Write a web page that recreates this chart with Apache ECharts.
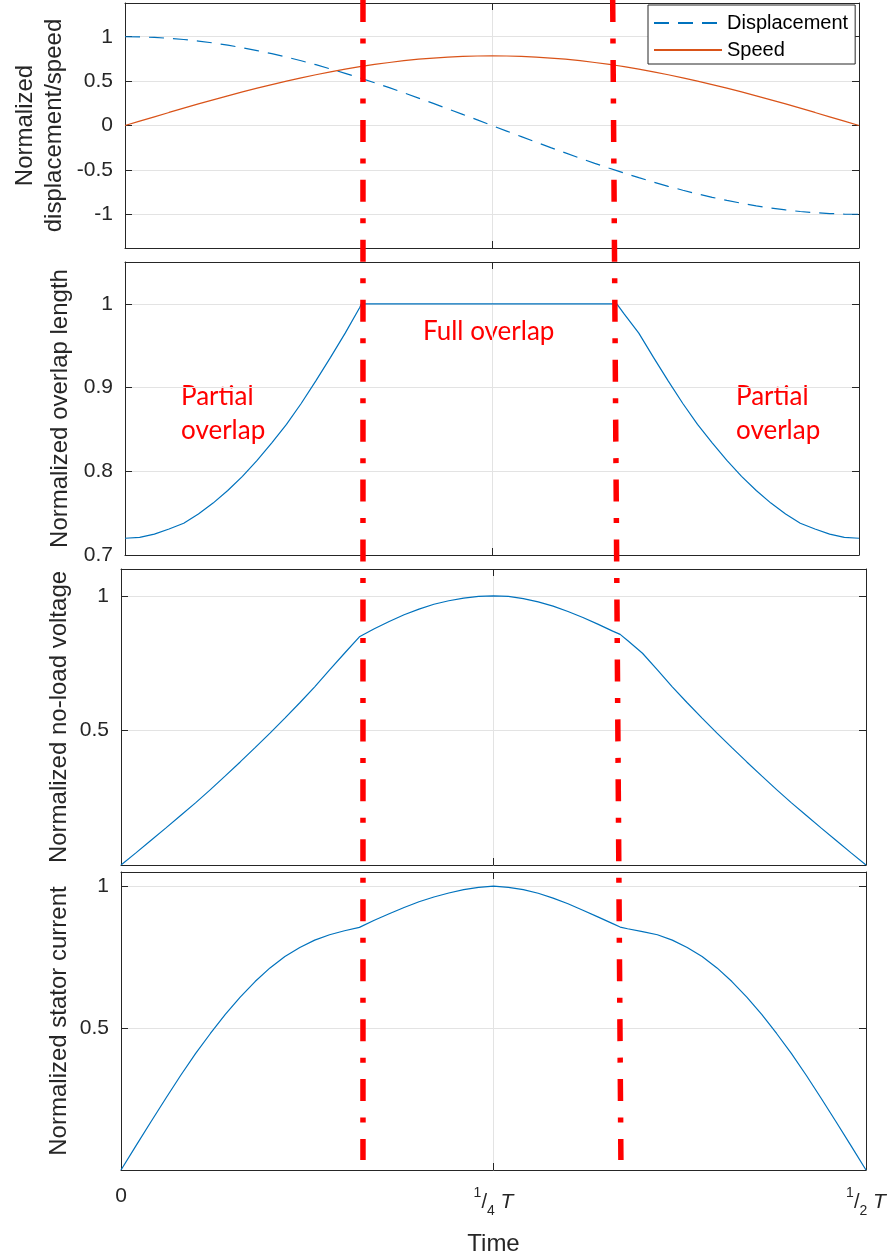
<!DOCTYPE html>
<html>
<head>
<meta charset="utf-8">
<script src="https://cdn.jsdelivr.net/npm/echarts@6/dist/echarts.min.js"></script>
<style>
  html, body { margin: 0; padding: 0; background: #fff; }
  #chart { width: 893px; height: 1259px; }
</style>
</head>
<body>
<div id="chart"></div>
<script>
// time as a fraction of the period T (kinks at 0.161 and 0.335)
const time = [0, 0.01, 0.02, 0.03, 0.04, 0.05, 0.06, 0.07, 0.08, 0.09, 0.10, 0.11, 0.12, 0.13, 0.14, 0.15, 0.16, 0.161,
  0.17, 0.18, 0.19, 0.20, 0.21, 0.22, 0.23, 0.24, 0.25, 0.26, 0.27, 0.28, 0.29, 0.30, 0.31, 0.32, 0.33, 0.335,
  0.34, 0.35, 0.36, 0.37, 0.38, 0.39, 0.40, 0.41, 0.42, 0.43, 0.44, 0.45, 0.46, 0.47, 0.48, 0.49, 0.50];
const displacement = [1, 0.998, 0.992, 0.982, 0.969, 0.951, 0.930, 0.905, 0.876, 0.844, 0.809, 0.771, 0.729, 0.685, 0.637, 0.588, 0.536, 0.531,
  0.482, 0.426, 0.368, 0.309, 0.249, 0.187, 0.125, 0.063, 0, -0.063, -0.125, -0.187, -0.249, -0.309, -0.368, -0.426, -0.482, -0.509,
  -0.536, -0.588, -0.637, -0.685, -0.729, -0.771, -0.809, -0.844, -0.876, -0.905, -0.930, -0.951, -0.969, -0.982, -0.992, -0.998, -1];
const speed = [0, 0.049, 0.098, 0.147, 0.195, 0.243, 0.289, 0.334, 0.378, 0.421, 0.461, 0.500, 0.537, 0.572, 0.605, 0.635, 0.663, 0.666,
  0.688, 0.710, 0.730, 0.747, 0.760, 0.771, 0.779, 0.783, 0.785, 0.783, 0.779, 0.771, 0.760, 0.747, 0.730, 0.710, 0.688, 0.676,
  0.663, 0.635, 0.605, 0.572, 0.537, 0.500, 0.461, 0.421, 0.378, 0.334, 0.289, 0.243, 0.195, 0.147, 0.098, 0.049, 0];
const overlapLength = [0.720, 0.721, 0.725, 0.731, 0.738, 0.749, 0.762, 0.777, 0.794, 0.813, 0.834, 0.856, 0.881, 0.908, 0.936, 0.965, 0.996, 1,
  1, 1, 1, 1, 1, 1, 1, 1, 1, 1, 1, 1, 1, 1, 1, 1, 1, 1,
  0.988, 0.965, 0.936, 0.908, 0.881, 0.856, 0.834, 0.813, 0.794, 0.777, 0.762, 0.749, 0.738, 0.731, 0.725, 0.721, 0.720];
const noLoadVoltage = [0, 0.045, 0.091, 0.137, 0.184, 0.231, 0.280, 0.331, 0.383, 0.436, 0.490, 0.546, 0.603, 0.662, 0.725, 0.787, 0.848, 0.855,
  0.878, 0.905, 0.930, 0.951, 0.969, 0.982, 0.992, 0.998, 1, 0.998, 0.990, 0.978, 0.962, 0.942, 0.920, 0.895, 0.869, 0.857,
  0.834, 0.787, 0.725, 0.662, 0.603, 0.546, 0.490, 0.436, 0.383, 0.331, 0.280, 0.231, 0.184, 0.137, 0.091, 0.045, 0];
const statorCurrent = [0, 0.085, 0.169, 0.252, 0.333, 0.410, 0.481, 0.548, 0.609, 0.664, 0.712, 0.752, 0.784, 0.810, 0.829, 0.843, 0.855, 0.856,
  0.880, 0.903, 0.925, 0.945, 0.962, 0.976, 0.988, 0.996, 1, 0.996, 0.988, 0.975, 0.958, 0.938, 0.915, 0.892, 0.868, 0.856,
  0.850, 0.840, 0.829, 0.810, 0.784, 0.752, 0.712, 0.664, 0.609, 0.548, 0.481, 0.410, 0.333, 0.252, 0.169, 0.085, 0];

// boundaries between partial and full overlap: t at top of the figure and t at the bottom
const boundaryTop = [0.1624, 0.330];
const boundaryBottom = [0.1624, 0.3355];

const xTicks = [0, 0.25, 0.5];
const xTickLabels = ['0', '{sup|1}{sl|/}{sub|4} {it|T}', '{sup|1}{sl|/}{sub|2} {it|T}'];
const yTicks = [[-1, -0.5, 0, 0.5, 1], [0.7, 0.8, 0.9, 1], [0.5, 1], [0.5, 1]];
const yRanges = [[-1.38, 1.38], [0.7, 1.05], [0, 1.1], [0, 1.05]];
const yNames = ['Normalized\ndisplacement/speed', 'Normalized overlap length',
  'Normalized no-load voltage', 'Normalized stator current'];

const boxes = [
  { left: 125, right: 34, top: 3, height: 245, gap: 56 },
  { left: 125, right: 34, top: 262, height: 293, gap: 50 },
  { left: 121, right: 27, top: 569, height: 296, gap: 47 },
  { left: 121, right: 27, top: 872, height: 298, gap: 47 }
];

const ink = '#262626';
const gridColor = '#e3e3e3';
const font = 'Liberation Sans, Arial, sans-serif';

var chart = echarts.init(document.getElementById('chart'));

function tick(values) {
  return { show: true, inside: true, length: 7, lineStyle: { color: ink }, customValues: values };
}
const frame = { show: true, onZero: false, lineStyle: { color: ink, width: 1 } };

const grid = [], xAxis = [], yAxis = [];
boxes.forEach(function (b, i) {
  grid.push({ left: b.left, right: b.right, top: b.top, height: b.height, outerBoundsMode: 'none' });
  const last = i === boxes.length - 1;
  xAxis.push({
    type: 'value', gridIndex: i, min: 0, max: 0.5, position: 'bottom',
    axisLine: frame, axisTick: tick(xTicks),
    axisLabel: {
      show: last, margin: 16, color: ink, fontFamily: font, fontSize: 21,
      customValues: xTicks,
      formatter: function (v) { return xTickLabels[xTicks.indexOf(v)]; },
      rich: {
        sup: { fontSize: 14, lineHeight: 14, verticalAlign: 'top', color: ink, fontFamily: font },
        sl: { fontSize: 20, lineHeight: 32, color: ink, fontFamily: font },
        sub: { fontSize: 14, lineHeight: 14, verticalAlign: 'bottom', color: ink, fontFamily: font },
        it: { fontSize: 21, fontStyle: 'italic', color: ink, fontFamily: font }
      }
    },
    splitLine: { show: true, lineStyle: { color: gridColor, width: 1 } },
    name: last ? 'Time' : '', nameLocation: 'middle', nameGap: 62,
    nameTextStyle: { fontSize: 24, color: ink, fontFamily: font }
  });
  xAxis.push({
    type: 'value', gridIndex: i, min: 0, max: 0.5, position: 'top',
    axisLine: frame, axisTick: tick(xTicks),
    axisLabel: { show: false }, splitLine: { show: false }
  });
  yAxis.push({
    type: 'value', gridIndex: i, min: yRanges[i][0], max: yRanges[i][1], position: 'left',
    axisLine: frame, axisTick: tick(yTicks[i]),
    axisLabel: { margin: 12, color: ink, fontFamily: font, fontSize: 21, customValues: yTicks[i] },
    splitLine: { show: true, lineStyle: { color: gridColor, width: 1 } },
    name: yNames[i], nameLocation: 'middle', nameGap: b.gap, nameMoveOverlap: false,
    nameTextStyle: { fontSize: 24, lineHeight: 29, color: ink, fontFamily: font }
  });
  yAxis.push({
    type: 'value', gridIndex: i, min: yRanges[i][0], max: yRanges[i][1], position: 'right',
    axisLine: frame, axisTick: tick(yTicks[i]),
    axisLabel: { show: false }, splitLine: { show: false }
  });
});

// overlay spanning all panels for the red boundary lines
grid.push({ left: 121, right: 27, top: 0, height: 1160, show: false, outerBoundsMode: 'none' });
xAxis.push({ type: 'value', gridIndex: 4, min: 0, max: 0.5, show: false });
yAxis.push({ type: 'value', gridIndex: 4, min: 0, max: 1, show: false });

function pairs(values) {
  return time.map(function (t, k) { return [t, values[k]]; });
}

function curve(name, values, panel, color, type) {
  return {
    name: name, type: 'line', xAxisIndex: panel * 2, yAxisIndex: panel * 2,
    data: pairs(values), showSymbol: false, symbol: 'none', silent: true,
    lineStyle: { color: color, width: 1.2, type: type || 'solid' },
    itemStyle: { color: color }
  };
}

const blue = '#0072BD';
const orange = '#D95319';

const series = [
  curve('Displacement', displacement, 0, blue, [15, 9]),
  curve('Speed', speed, 0, orange),
  curve('Overlap', overlapLength, 1, blue),
  curve('Voltage', noLoadVoltage, 2, blue),
  curve('Current', statorCurrent, 3, blue)
];
boundaryTop.forEach(function (t, k) {
  series.push({
    type: 'line', xAxisIndex: 8, yAxisIndex: 8, symbol: 'none', silent: true,
    data: [[t, 1], [boundaryBottom[k], 0]],
    lineStyle: { color: '#ff0000', width: 5.5, type: [22, 16.5, 5, 16.45], cap: 'butt' },
    z: 5
  });
});

const redText = { fill: '#ff0000', font: '26px Lato, "Open Sans", sans-serif', lineHeight: 34 };

const option = {
  animation: false,
  backgroundColor: '#fff',
  grid: grid,
  xAxis: xAxis,
  yAxis: yAxis,
  legend: {
    data: ['Displacement', 'Speed'],
    orient: 'vertical', left: 648, top: 5,
    itemWidth: 68, itemHeight: 20, itemGap: 7,
    padding: [8, 7, 4, 5],
    backgroundColor: '#fff', borderColor: ink, borderWidth: 1, borderRadius: 0,
    itemStyle: { opacity: 0 },
    textStyle: { fontSize: 20, color: '#000', fontFamily: font },
    selectedMode: false, z: 10
  },
  graphic: [
    { type: 'text', left: 423, top: 315, style: Object.assign({ text: 'Full overlap' }, redText) },
    { type: 'text', left: 181, top: 380, style: Object.assign({ text: 'Partial\noverlap' }, redText) },
    { type: 'text', left: 736, top: 380, style: Object.assign({ text: 'Partial\noverlap' }, redText) }
  ],
  series: series
};
chart.setOption(option);
</script>
</body>
</html>
